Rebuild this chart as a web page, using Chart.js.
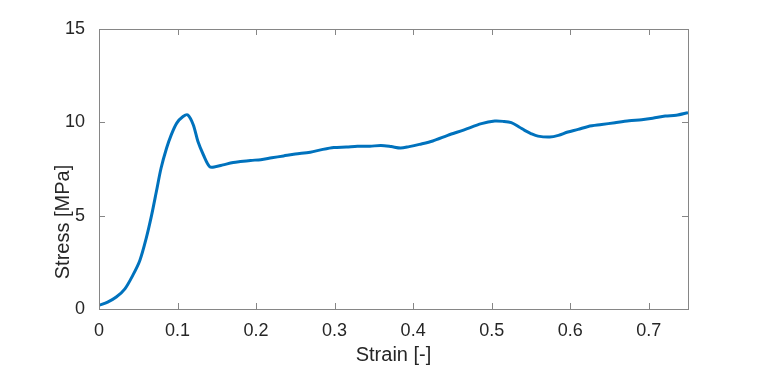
<!DOCTYPE html>
<html>
<head>
<meta charset="utf-8">
<script src="https://cdn.jsdelivr.net/npm/chart.js@4/dist/chart.umd.min.js"></script>
<style>
  html, body { margin: 0; padding: 0; background: #fff; }
  #wrap { width: 759px; height: 366px; }
</style>
</head>
<body>
<div id="wrap"><canvas id="chart" width="759" height="366"></canvas></div>
<script>
const strain = [0, 0.011, 0.022, 0.033, 0.043, 0.052, 0.06, 0.067, 0.073, 0.079, 0.086, 0.092, 0.099,
  0.107, 0.113, 0.12, 0.126, 0.133, 0.141, 0.148, 0.158, 0.171, 0.18, 0.193, 0.206, 0.22,
  0.235, 0.25, 0.269, 0.285, 0.299, 0.315, 0.329, 0.345, 0.359, 0.372, 0.384, 0.395, 0.408, 0.425, 0.444,
  0.465, 0.487, 0.504, 0.515, 0.525, 0.535, 0.542, 0.55, 0.559, 0.574, 0.585, 0.597, 0.61, 0.623, 0.64,
  0.657, 0.675, 0.691, 0.705, 0.721, 0.735, 0.75];
const stress = [0.19, 0.37, 0.64, 1.08, 1.8, 2.6, 3.77, 5.03, 6.28, 7.54, 8.61, 9.33, 9.96,
  10.31, 10.4, 9.87, 8.97, 8.25, 7.62, 7.62, 7.72, 7.85, 7.9, 7.96, 8.0, 8.1,
  8.2, 8.3, 8.4, 8.55, 8.65, 8.68, 8.72, 8.72, 8.76, 8.7, 8.62, 8.7, 8.82, 9.0, 9.3,
  9.6, 9.93, 10.07, 10.05, 9.98, 9.75, 9.57, 9.4, 9.26, 9.21, 9.3, 9.48, 9.62, 9.78, 9.88,
  9.98, 10.08, 10.14, 10.22, 10.34, 10.38, 10.52];
const xTicks = [0, 0.1, 0.2, 0.3, 0.4, 0.5, 0.6, 0.7];
const yTicks = [0, 5, 10, 15];

const axisColor = "#868686";
const textColor = "#262626";
const fontFam = "'Liberation Sans', Arial, sans-serif";

// MATLAB style box with inward ticks on all four sides, plus the y label
const boxPlugin = {
  id: "box",
  afterDraw(chart) {
    const { ctx, chartArea: a, scales } = chart;
    ctx.save();
    ctx.strokeStyle = axisColor;
    ctx.lineWidth = 1;
    ctx.strokeRect(a.left + 0.5, a.top + 0.5, a.right - a.left, a.bottom - a.top);
    ctx.beginPath();
    xTicks.forEach(v => {
      const x = Math.round(scales.x.getPixelForValue(v)) + 0.5;
      ctx.moveTo(x, a.bottom); ctx.lineTo(x, a.bottom - 6);
      ctx.moveTo(x, a.top); ctx.lineTo(x, a.top + 6);
    });
    yTicks.forEach(v => {
      const y = Math.round(scales.y.getPixelForValue(v)) + 0.5;
      ctx.moveTo(a.left, y); ctx.lineTo(a.left + 6, y);
      ctx.moveTo(a.right, y); ctx.lineTo(a.right - 6, y);
    });
    ctx.stroke();

    ctx.translate(63, 222);
    ctx.rotate(-Math.PI / 2);
    ctx.fillStyle = textColor;
    ctx.font = "20px " + fontFam;
    ctx.textAlign = "center";
    ctx.textBaseline = "middle";
    ctx.fillText("Stress [MPa]", 0, 0);
    ctx.restore();
  }
};

new Chart(document.getElementById("chart"), {
  type: "line",
  data: {
    datasets: [{
      data: strain.map((s, i) => ({ x: s, y: stress[i] })),
      borderColor: "#0072BD",
      borderWidth: 3,
      pointRadius: 0,
      tension: 0.3,
      fill: false
    }]
  },
  options: {
    responsive: false,
    animation: false,
    layout: { padding: { top: 29, right: 71, left: 0, bottom: 0 } },
    plugins: { legend: { display: false }, tooltip: { enabled: false } },
    scales: {
      x: {
        type: "linear",
        min: 0, max: 0.75,
        afterBuildTicks: s => { s.ticks = xTicks.map(v => ({ value: v })); },
        afterFit: s => { s.height = 57; },
        grid: { display: false },
        border: { display: false },
        ticks: { color: textColor, font: { family: fontFam, size: 18 }, padding: 3, maxRotation: 0 },
        title: { display: true, text: "Strain [-]", color: textColor, font: { family: fontFam, size: 20 }, padding: { top: 0, bottom: -1 } }
      },
      y: {
        min: 0, max: 15,
        afterBuildTicks: s => { s.ticks = yTicks.map(v => ({ value: v })); },
        afterFit: s => { s.width = 99; },
        grid: { display: false },
        border: { display: false },
        ticks: { color: textColor, font: { family: fontFam, size: 18 }, padding: 6 }
      }
    }
  },
  plugins: [boxPlugin]
});
</script>
</body>
</html>
